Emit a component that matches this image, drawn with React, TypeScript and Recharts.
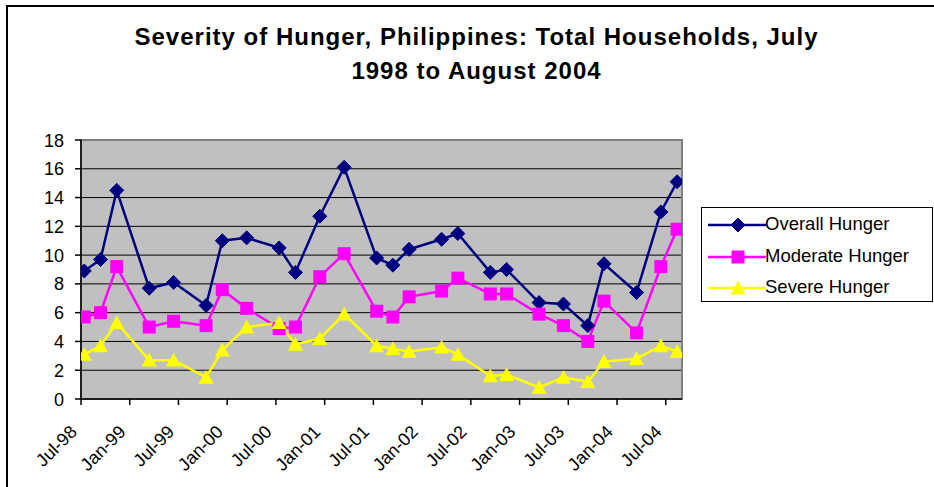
import {
  LineChart,
  Line,
  XAxis,
  YAxis,
  CartesianGrid,
  ReferenceArea,
} from "recharts";

// survey months, counted from Jul-98 (0)
const surveyMonths = [
  0, 2, 4, 8, 11, 15, 17, 20, 24, 26, 29, 32, 36, 38, 40, 44, 46, 50, 52, 56,
  59, 62, 64, 68, 71, 73,
];
// surveys are taken mid-month, so points sit a little right of the tick
const MID_MONTH = 0.4;

const overallHunger = [
  8.9, 9.7, 14.5, 7.7, 8.1, 6.5, 11.0, 11.2, 10.5, 8.8, 12.7, 16.1, 9.8, 9.3,
  10.4, 11.1, 11.5, 8.8, 9.0, 6.7, 6.6, 5.1, 9.4, 7.4, 13.0, 15.1,
];
const moderateHunger = [
  5.7, 6.0, 9.2, 5.0, 5.4, 5.1, 7.6, 6.3, 4.9, 5.0, 8.5, 10.1, 6.1, 5.7, 7.1,
  7.5, 8.4, 7.3, 7.3, 5.9, 5.1, 4.0, 6.8, 4.6, 9.2, 11.8,
];
const severeHunger = [
  3.1, 3.7, 5.3, 2.7, 2.7, 1.5, 3.4, 5.0, 5.3, 3.8, 4.2, 5.9, 3.7, 3.5, 3.3,
  3.6, 3.1, 1.6, 1.7, 0.8, 1.5, 1.2, 2.6, 2.8, 3.7, 3.3,
];

const tickMonths = [0, 6, 12, 18, 24, 30, 36, 42, 48, 54, 60, 66, 72];
const tickLabels = [
  "Jul-98", "Jan-99", "Jul-99", "Jan-00", "Jul-00", "Jan-01", "Jul-01",
  "Jan-02", "Jul-02", "Jan-03", "Jul-03", "Jan-04", "Jul-04",
];
const yTicks = [0, 2, 4, 6, 8, 10, 12, 14, 16, 18];

const FONT = "'Liberation Sans', Arial, sans-serif";

const data = surveyMonths.map((m, i) => ({
  m: m + MID_MONTH,
  overall: overallHunger[i],
  moderate: moderateHunger[i],
  severe: severeHunger[i],
}));

const Diamond = ({ cx, cy, r = 7 }: any) => (
  <path
    d={`M${cx},${cy - r} L${cx + r},${cy} L${cx},${cy + r} L${cx - r},${cy} Z`}
    fill="#000080"
    stroke="#000080"
  />
);
const Square = ({ cx, cy, r = 6.5 }: any) => (
  <rect x={cx - r} y={cy - r} width={2 * r} height={2 * r} fill="#FF00FF" />
);
const Triangle = ({ cx, cy, r = 7.5 }: any) => (
  <path
    d={`M${cx},${cy - r} L${cx + r},${cy + r * 0.85} L${cx - r},${cy + r * 0.85} Z`}
    fill="#FFFF00"
  />
);

const series = [
  { key: "overall", name: "Overall Hunger", color: "#000080", Marker: Diamond },
  { key: "moderate", name: "Moderate Hunger", color: "#FF00FF", Marker: Square },
  { key: "severe", name: "Severe Hunger", color: "#FFFF00", Marker: Triangle },
];

const XTick = ({ x, y, payload }: any) => {
  const idx = tickMonths.indexOf(payload.value);
  const ax = x - 3;
  const ay = y + 26;
  return (
    <text
      x={ax}
      y={ay}
      transform={`rotate(-45 ${ax} ${ay})`}
      textAnchor="end"
      fontSize={18}
      fontFamily={FONT}
      fill="#000"
    >
      {tickLabels[idx]}
    </text>
  );
};

const YTick = ({ x, y, payload }: any) => (
  <text
    x={x - 9}
    y={y + 6.5}
    textAnchor="end"
    fontSize={18}
    fontFamily={FONT}
    fill="#000"
  >
    {payload.value}
  </text>
);

const LegendBox = () => (
  <div
    style={{
      position: "absolute",
      left: 701,
      top: 207,
      border: "1px solid #000",
      width: 230,
      height: 93,
      background: "#fff",
      fontFamily: FONT,
      fontSize: 18.5,
    }}
  >
    {series.map((s, i) => (
      <div key={s.key} style={{ position: "absolute", left: 0, top: 5 + i * 31.5, height: 24 }}>
        <svg width={62} height={24} style={{ position: "absolute", left: 5, top: 0 }}>
          <line x1={1} y1={12} x2={59} y2={12} stroke={s.color} strokeWidth={2.5} />
          <s.Marker cx={31} cy={12} />
        </svg>
        <span style={{ position: "absolute", left: 63, top: 0, whiteSpace: "nowrap" }}>
          {s.name}
        </span>
      </div>
    ))}
  </div>
);

export default function App() {
  return (
    <div
      style={{
        position: "absolute",
        left: 0,
        top: 0,
        width: 934,
        height: 487,
        overflow: "hidden",
        background: "#fff",
      }}
    >
      <div
        style={{
          position: "absolute",
          left: 6,
          top: 5,
          width: 1000,
          height: 600,
          borderTop: "2px solid #000",
          borderLeft: "2px solid #000",
        }}
      />
      <div
        style={{
          position: "absolute",
          left: 0,
          top: 20,
          width: 953,
          textAlign: "center",
          fontFamily: FONT,
          fontWeight: "bold",
          fontSize: 24,
          letterSpacing: 1,
          lineHeight: "34px",
        }}
      >
        Severity of Hunger, Philippines: Total Households, July
        <br />
        1998 to August 2004
      </div>
      <div style={{ position: "absolute", left: 0, top: 0 }}>
        <LineChart
          width={934}
          height={487}
          data={data}
          margin={{ top: 140, left: 21, right: 252, bottom: 28 }}
        >
          <CartesianGrid
            horizontal
            vertical={false}
            stroke="#000"
            strokeWidth={1}
            fill="#C0C0C0"
            fillOpacity={1}
          />
          <ReferenceArea
            x1={0}
            x2={74}
            y1={0}
            y2={18}
            fill="none"
            stroke="#808080"
            strokeWidth={2}
            ifOverflow="visible"
          />
          <XAxis
            type="number"
            dataKey="m"
            domain={[0, 74]}
            ticks={tickMonths}
            interval={0}
            height={60}
            stroke="#000"
            strokeWidth={1.5}
            tickSize={6}
            tick={<XTick />}
            allowDataOverflow
          />
          <YAxis
            type="number"
            domain={[0, 18]}
            ticks={yTicks}
            interval={0}
            width={60}
            stroke="#000"
            strokeWidth={1.5}
            tickSize={6}
            tick={<YTick />}
          />
          {series.map((s) => (
            <Line
              key={s.key}
              type="linear"
              dataKey={s.key}
              name={s.name}
              stroke={s.color}
              strokeWidth={2.5}
              isAnimationActive={false}
              dot={(p: any) => <s.Marker key={`${s.key}-${p.index}`} cx={p.cx} cy={p.cy} />}
              activeDot={false}
            />
          ))}
        </LineChart>
      </div>
      <LegendBox />
    </div>
  );
}
